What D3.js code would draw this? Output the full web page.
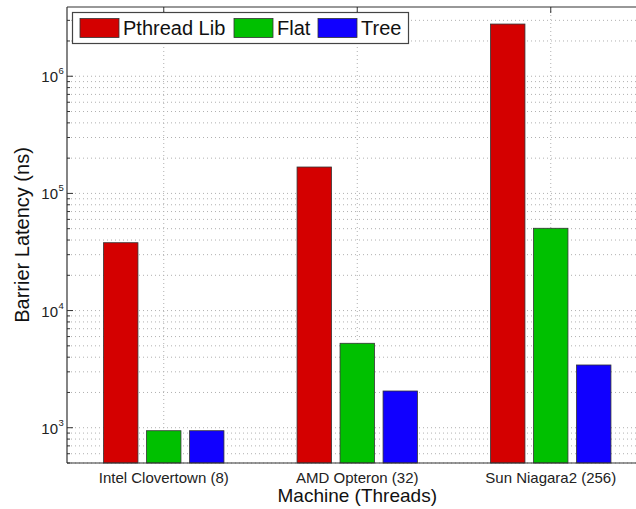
<!DOCTYPE html>
<html>
<head>
<meta charset="utf-8">
<script src="https://cdn.jsdelivr.net/npm/d3@7"></script>
<style>
  html, body { margin: 0; padding: 0; background: #fff; }
  svg { display: block; font-family: "Liberation Sans", Arial, Helvetica, sans-serif; }
</style>
</head>
<body>
<svg id="chart" width="636" height="509"></svg>
<script>
const machines = ["Intel Clovertown (8)", "AMD Opteron (32)", "Sun Niagara2 (256)"];
const seriesNames = ["Pthread Lib", "Flat", "Tree"];
const seriesColors = ["#d40000", "#00c000", "#1000ff"];
const pthreadLib = [37950, 168000, 2790000];
const flat = [943, 5257, 50400];
const tree = [943, 2058, 3432];
const yTickValues = [1e3, 1e4, 1e5, 1e6];
const yTickExponents = ["3", "4", "5", "6"];
const xTitle = "Machine (Threads)";
const yTitle = "Barrier Latency (ns)";

const seriesValues = [pthreadLib, flat, tree];

(function () {
const svg = d3.select("#chart");
const pLeft = 67, pTop = 7, pBottom = 463;
const unit = 193.5;
const pRight = pLeft + unit * 3;

const x = d3.scaleLinear().domain([0.5, 3.5]).range([pLeft, pRight]);
const y = d3.scaleLog().domain([500, 3.9e6]).range([pBottom, pTop]);

const groupWidth = Math.min(0.8, 3 / 4.5);
const stride = groupWidth / 3;
const barW = stride * 0.8;

// grid
const minorVals = [];
for (let e = 2; e <= 6; e++) {
  for (let m = 1; m <= 9; m++) {
    const v = m * Math.pow(10, e);
    if (v >= 500 && v <= 3.9e6) minorVals.push(v);
  }
}
const grid = svg.append("g");
grid.selectAll("line.h").data(minorVals).enter().append("line")
  .attr("x1", pLeft).attr("x2", 636)
  .attr("y1", d => y(d)).attr("y2", d => y(d))
  .attr("stroke", "#b0b0b0").attr("stroke-width", 1)
  .attr("stroke-dasharray", "1,3");
grid.selectAll("line.v").data([1, 2, 3]).enter().append("line")
  .attr("x1", d => x(d)).attr("x2", d => x(d))
  .attr("y1", pTop).attr("y2", pBottom)
  .attr("stroke", "#b0b0b0").attr("stroke-width", 1)
  .attr("stroke-dasharray", "1,3");

// bars
const bars = svg.append("g");
seriesValues.forEach((vals, s) => {
  bars.selectAll("rect.s" + s).data(vals).enter().append("rect")
    .attr("x", (d, i) => x(i + 1 + (s - 1) * stride - barW / 2))
    .attr("width", x(barW) - x(0))
    .attr("y", d => y(d))
    .attr("height", d => pBottom - y(d))
    .attr("fill", seriesColors[s])
    .attr("stroke", "#333").attr("stroke-width", 0.8);
});

// axes lines
const ax = svg.append("g").attr("stroke", "#333").attr("stroke-width", 1.2);
ax.append("line").attr("x1", pLeft).attr("x2", pLeft).attr("y1", pTop).attr("y2", pBottom);
ax.append("line").attr("x1", pLeft).attr("x2", 636).attr("y1", pBottom).attr("y2", pBottom);
ax.append("line").attr("x1", pLeft).attr("x2", 636).attr("y1", pTop).attr("y2", pTop);

// ticks (inside)
const tk = svg.append("g").attr("stroke", "#333").attr("stroke-width", 1);
tk.selectAll("line.maj").data(yTickValues).enter().append("line")
  .attr("x1", pLeft).attr("x2", pLeft + 6)
  .attr("y1", d => y(d)).attr("y2", d => y(d));
tk.selectAll("line.min").data(minorVals.filter(v => !yTickValues.includes(v))).enter().append("line")
  .attr("x1", pLeft).attr("x2", pLeft + 3)
  .attr("y1", d => y(d)).attr("y2", d => y(d));
tk.selectAll("line.top").data([1, 2, 3]).enter().append("line")
  .attr("x1", d => x(d)).attr("x2", d => x(d))
  .attr("y1", pTop).attr("y2", pTop + 6);

// y tick labels
const yl = svg.append("g").attr("fill", "#222");
yTickValues.forEach((v, i) => {
  yl.append("text")
    .attr("x", 58).attr("y", y(v) + 6)
    .attr("text-anchor", "end")
    .attr("font-size", 15)
    .text("10");
  yl.append("text")
    .attr("x", 58.5).attr("y", y(v) - 2)
    .attr("font-size", 9.5)
    .text(yTickExponents[i]);
});

// x tick labels
svg.append("g").selectAll("text").data(machines).enter().append("text")
  .attr("x", (d, i) => x(i + 1))
  .attr("y", 483)
  .attr("text-anchor", "middle")
  .attr("font-size", 15)
  .attr("fill", "#222")
  .text(d => d);

// titles
svg.append("text")
  .attr("x", x(2)).attr("y", 502)
  .attr("text-anchor", "middle")
  .attr("font-size", 19)
  .attr("fill", "#111")
  .text(xTitle);
svg.append("text")
  .attr("transform", `translate(29, ${(pTop + pBottom) / 2}) rotate(-90)`)
  .attr("text-anchor", "middle")
  .attr("font-size", 20)
  .attr("fill", "#111")
  .text(yTitle);

// legend
const lg = svg.append("g");
lg.append("rect").attr("x", 72.5).attr("y", 12.5).attr("width", 336).attr("height", 31)
  .attr("fill", "#fff").attr("stroke", "#444").attr("stroke-width", 1.2);
const legendX = [80, 234, 318];
seriesNames.forEach((n, s) => {
  lg.append("rect").attr("x", legendX[s]).attr("y", 18.5).attr("width", 39).attr("height", 19)
    .attr("fill", seriesColors[s]).attr("stroke", "#333").attr("stroke-width", 0.8);
  lg.append("text").attr("x", legendX[s] + 43).attr("y", 35)
    .attr("font-size", 20).attr("fill", "#111").text(n);
});
})();
</script>
</body>
</html>
